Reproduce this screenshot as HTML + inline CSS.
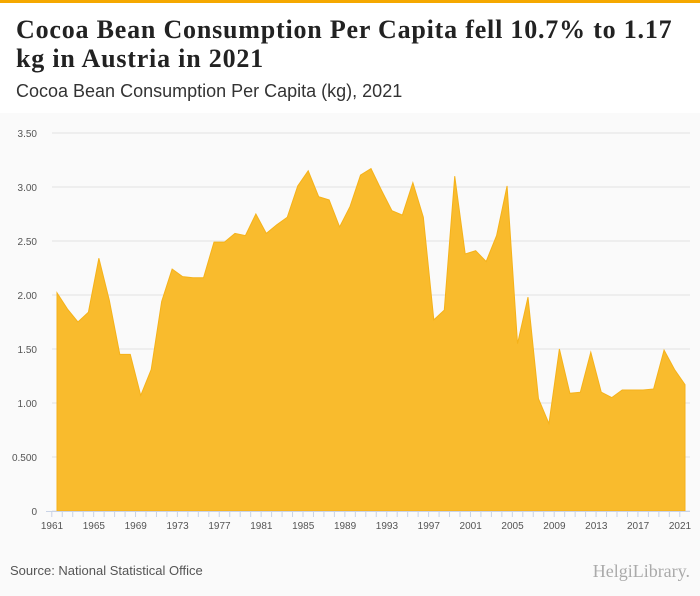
<!DOCTYPE html>
<html><head><meta charset="utf-8"><style>
body{margin:0;width:700px;height:596px;overflow:hidden;background:#fafafa;font-family:"Liberation Sans",sans-serif;}
#hdr{position:absolute;left:0;top:0;width:700px;height:113px;background:#fff;border-top:3px solid #f5a800;box-sizing:border-box;}
#title{position:absolute;left:16px;top:12px;font-family:"Liberation Serif",serif;font-weight:bold;font-size:26px;line-height:29px;color:#222;width:690px;letter-spacing:0.8px;white-space:nowrap;}
#sub{position:absolute;left:16px;top:78px;font-size:18px;color:#333;}
#src{position:absolute;left:10px;top:563px;font-size:13px;color:#555;}
#logo{position:absolute;right:10px;top:561px;font-size:18px;color:#aaa;font-family:"Liberation Serif",serif;}
</style></head><body>
<div id="hdr">
<div id="title">Cocoa Bean Consumption Per Capita fell 10.7% to 1.17<br>kg in Austria in 2021</div>
<div id="sub">Cocoa Bean Consumption Per Capita (kg), 2021</div>
</div>
<svg id="chart" width="700" height="596" style="position:absolute;left:0;top:0"></svg>
<div id="src">Source: National Statistical Office</div>
<div id="logo">HelgiLibrary.</div>
<script>
const years=[];for(let y=1961;y<=2021;y++)years.push(y);
const values=[2.02,1.87,1.75,1.84,2.34,1.95,1.45,1.45,1.07,1.31,1.94,2.24,2.17,2.16,2.16,2.49,2.49,2.57,2.55,2.75,2.57,2.65,2.72,3.01,3.15,2.91,2.88,2.63,2.82,3.11,3.17,2.97,2.78,2.74,3.04,2.72,1.77,1.86,3.10,2.38,2.41,2.31,2.55,3.01,1.55,1.98,1.04,0.81,1.50,1.09,1.10,1.47,1.10,1.05,1.12,1.12,1.12,1.13,1.49,1.31,1.17];
const yTicks=[0,0.5,1,1.5,2,2.5,3,3.5];
const yTickLabels=["0","0.500","1.00","1.50","2.00","2.50","3.00","3.50"];
const NS="http://www.w3.org/2000/svg";
const svg=document.getElementById('chart');
const x=v=>57+(v-1961)*(628/60);
const y=v=>511-v*108;
function mk(t,a){const e=document.createElementNS(NS,t);for(const k in a)e.setAttribute(k,a[k]);svg.appendChild(e);return e;}
yTicks.forEach((t,i)=>{
 const g=mk('line',{x1:52,x2:690,y1:y(t),y2:y(t),stroke:'#e3e3e3','stroke-width':1});
 
 
 const l=mk('text',{x:37,y:y(t)+4,'text-anchor':'end','font-size':10,fill:'#555','font-family':'Liberation Sans'});
 l.textContent=yTickLabels[i];
 
 
});
let d='M'+x(years[0])+','+y(0);
years.forEach((yr,i)=>{d+=' L'+x(yr)+','+y(values[i]);});
d+=' L'+x(years[years.length-1])+','+y(0)+' Z';
const area=mk('path',{d:d,fill:'#f9bb2d',stroke:'#f5b21a','stroke-width':1});


const ax=mk('line',{x1:46,x2:690,y1:511.5,y2:511.5,stroke:'#c9d3e6','stroke-width':1});


years.forEach(yr=>{
 const tk=mk('line',{x1:x(yr)-5.2,x2:x(yr)-5.2,y1:511,y2:517,stroke:'#c9d3e6','stroke-width':1});
 
 
 if((yr-1961)%4===0){
  const l=mk('text',{x:x(yr)-5,y:529,'text-anchor':'middle','font-size':10,fill:'#555','font-family':'Liberation Sans'});
  l.textContent=yr;
  
  
 }
});
</script>
</body></html>
